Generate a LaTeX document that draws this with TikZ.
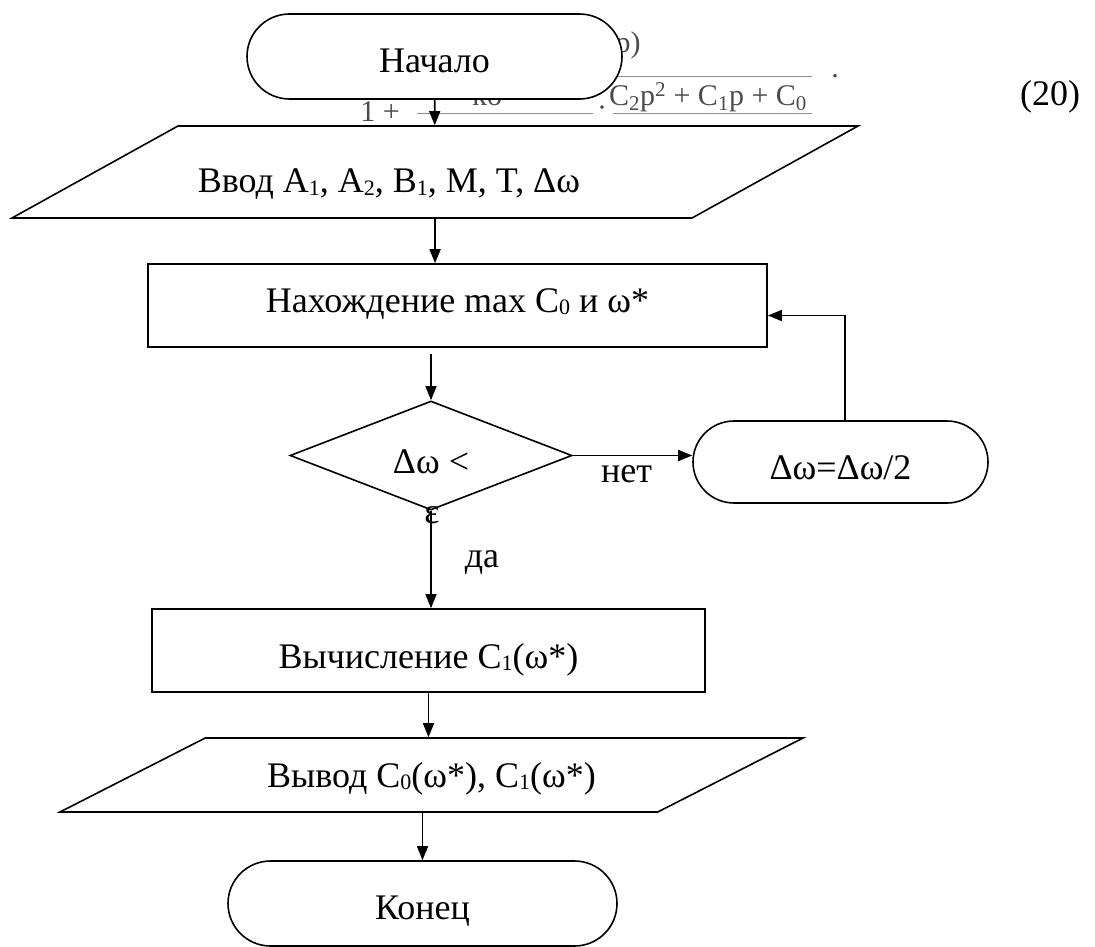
\documentclass[tikz,border=0pt]{standalone}
\usepackage{fontspec}
\setmainfont{Liberation Serif}
\usetikzlibrary{shapes.geometric,shapes.misc,arrows.meta}
\definecolor{fragtext}{gray}{0.3}
\definecolor{fragline}{gray}{0.55}
\newcommand{\low}[1]{\raisebox{-2.5pt}{\fontsize{22}{22}\selectfont #1}}

\begin{document}
\begin{tikzpicture}[x=1pt,y=-1pt,
	every node/.style={font=\fontsize{36}{50}\selectfont},
	base/.style={draw,line width=1.6pt,fill=white,inner sep=0pt,text height=36pt,text depth=4pt},
	term/.style={base,rounded rectangle},
	proc/.style={base,rectangle},
	io/.style={base,trapezium,trapezium stretches body=true},
	decision/.style={base,diamond,text height=0pt,text depth=0pt},
	arr/.style={line width=1.6pt,-{Triangle[length=14pt,width=11pt]}},
	frag/.style={text=fragtext,font=\fontsize{30}{32}\selectfont}]
	\useasboundingbox (0,0) rectangle (1095,947);
	\node[frag,anchor=west] (fp) at (612,45) {p)};
	\draw[fragline,line width=1pt] (612,77) -- (812,77);
	\node[frag] (fden) at (708,97) {C\textsubscript{2}p\textsuperscript{2} + C\textsubscript{1}p + C\textsubscript{0}};
	\node[frag,anchor=base] (fend) at (835,78) {.};
	\node[frag] (fone) at (380,112) {1 +};
	\node[frag] (fko) at (487,95) {ko};
	\draw[fragline,line width=1pt] (417,114) -- (593,114);
	\node[frag] (fdot) at (602,112) {·};
	\draw[fragline,line width=1pt] (613,114) -- (812,114);
	\node (eqno) at (1050,97) {(20)};
	\node[term,minimum width=375pt,minimum height=85pt] (start) at (434.5,56.5) {Начало};
	\node[io,trapezium left angle=29,trapezium right angle=151,minimum width=846pt,text height=67pt,text depth=25pt] (input) at (435,172) {Ввод A\low{1}, A\low{2}, B\low{1}, M, T, Δω\hspace*{92pt}};
	\node[proc,minimum width=619pt,minimum height=83pt,text height=17pt] (find) at (457.5,305.5) {Нахождение max C\low{0} и ω*};
	\node[decision,minimum width=282pt,minimum height=109pt] (check) at (431,455.5) {};
	\node[anchor=base] (cond) at (431,473) {Δω <};
	\node[anchor=base] (condeps) at (432,523) {ε};
	\node[term,minimum width=295pt,minimum height=82pt,text height=38pt] (halve) at (840.5,462) {Δω=Δω/2};
	\node[proc,minimum width=553pt,minimum height=83pt,text height=39pt] (calc) at (428.5,650.5) {Вычисление C\low{1}(ω*)};
	\node[io,trapezium left angle=27,trapezium right angle=153,minimum width=743pt,text height=49pt,text depth=25pt] (output) at (431.5,775) {Вывод C\low{0}(ω*), C\low{1}(ω*)};
	\node[term,minimum width=389pt,minimum height=85pt] (finish) at (422.5,903.5) {Конец};
	\draw[arr] (start) -- (input);
	\draw[arr] (input.south) -- (input.south |- find.north);
	\draw[arr,shorten <=6pt] (find.south -| check.north) -- (check.north);
	\draw[arr] (check.east) -- node[pos=0.45,anchor=base,yshift=-27pt] {нет} (check.east -| halve.west);
	\draw[arr] ([xshift=4.5pt]halve.north) |- ([yshift=-10pt]find.east);
	\draw[arr] (check.south) -- node[anchor=base,xshift=51pt,yshift=-7.5pt] {да} (check.south |- calc.north);
	\draw[arr] (calc.south) -- (calc.south |- output.north);
	\draw[arr] (finish.north |- output.south) -- (finish.north);
\end{tikzpicture}
\end{document}
